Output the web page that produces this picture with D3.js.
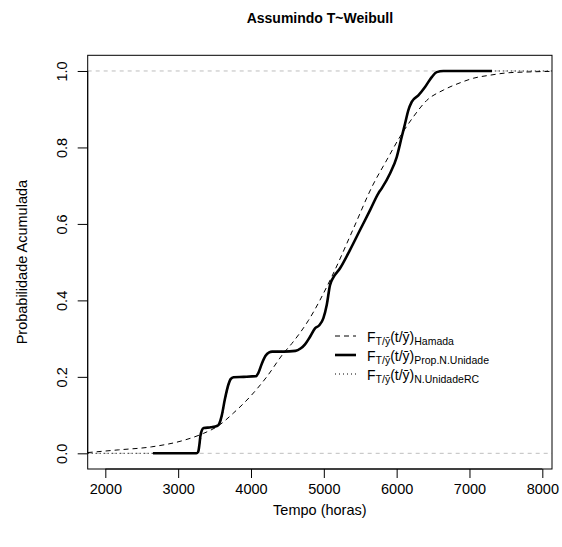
<!DOCTYPE html>
<html><head><meta charset="utf-8">
<script src="https://cdn.jsdelivr.net/npm/d3@7"></script>
<style>body{margin:0;background:#fff} text{font-family:"Liberation Sans",Arial,Helvetica,sans-serif}</style>
</head><body><svg id="c" width="562" height="547"></svg>
<script>
const xTicks = [2000, 3000, 4000, 5000, 6000, 7000, 8000];
const yTicks = [0, 0.2, 0.4, 0.6, 0.8, 1.0];
const refLines = [0, 1];

// Hamada (dashed)
const hamadaT = [1758, 2178, 2637, 3094, 3346, 3552, 3757, 3987, 4216, 4444, 4560, 4790, 5109, 5400, 5669, 5864, 6046, 6229, 6413, 6641, 6870, 7053, 7282, 7511, 7735, 8133];
const hamadaF = [0.002, 0.009, 0.017, 0.035, 0.052, 0.072, 0.105, 0.148, 0.200, 0.261, 0.287, 0.348, 0.462, 0.585, 0.700, 0.767, 0.828, 0.880, 0.923, 0.950, 0.969, 0.981, 0.989, 0.995, 0.997, 0.999];

// Prop.N.Unidade (solid)
const propT = [2655, 3250, 3275, 3290, 3305, 3325, 3350, 3450, 3540, 3565, 3600, 3640, 3690, 3720, 3760, 3900, 4070, 4100, 4150, 4200, 4250, 4290, 4450, 4610, 4680, 4742, 4811, 4879, 4938, 4993, 5040, 5085, 5131, 5223, 5360, 5497, 5635, 5749, 5795, 5909, 6001, 6070, 6115, 6160, 6207, 6298, 6390, 6482, 6550, 6641, 7310];
const propF = [0, 0, 0.004, 0.02, 0.045, 0.060, 0.066, 0.068, 0.072, 0.078, 0.100, 0.140, 0.180, 0.194, 0.199, 0.200, 0.202, 0.210, 0.235, 0.255, 0.264, 0.266, 0.266, 0.268, 0.274, 0.285, 0.305, 0.327, 0.335, 0.353, 0.388, 0.440, 0.460, 0.484, 0.532, 0.584, 0.636, 0.680, 0.693, 0.732, 0.775, 0.828, 0.862, 0.897, 0.919, 0.936, 0.958, 0.984, 0.997, 1.000, 1.000];

// N.UnidadeRC (dotted)
const rcT = [1758, 3255, 3280, 3300, 3320, 3345, 3460, 3550, 3575, 3610, 3650, 3700, 3735, 3780, 4080, 4110, 4160, 4210, 4265, 4300, 4620, 4690, 4750, 4820, 4885, 4945, 5000, 5045, 5090, 5140, 5230, 5365, 5500, 5640, 5755, 5800, 5915, 6005, 6075, 6120, 6165, 6212, 6305, 6395, 6488, 6555, 6650, 8133];
const rcF = [0, 0, 0.006, 0.025, 0.050, 0.064, 0.068, 0.072, 0.080, 0.104, 0.145, 0.183, 0.196, 0.200, 0.202, 0.212, 0.238, 0.257, 0.265, 0.266, 0.268, 0.275, 0.287, 0.306, 0.328, 0.336, 0.355, 0.390, 0.442, 0.462, 0.486, 0.534, 0.586, 0.638, 0.682, 0.695, 0.734, 0.778, 0.830, 0.864, 0.898, 0.920, 0.938, 0.960, 0.985, 0.997, 1.000, 1.000];

const svg = d3.select("#c");
const L = 87.7, R = 552, T = 55.3, B = 469;
const x = d3.scaleLinear().domain([1758, 8133]).range([L, R]);
const y = d3.scaleLinear().domain([-0.041, 1.041]).range([B, T]);

svg.append("rect").attr("width", 562).attr("height", 547).attr("fill", "#fff");
svg.append("defs").append("clipPath").attr("id", "clip")
  .append("rect").attr("x", L).attr("y", T).attr("width", R - L).attr("height", B - T);

const g = svg.append("g").attr("clip-path", "url(#clip)");

// reference lines
g.selectAll("line.ref").data(refLines).join("line")
  .attr("x1", L).attr("x2", R)
  .attr("y1", d => y(d)).attr("y2", d => y(d))
  .attr("stroke", "#bebebe").attr("stroke-width", 1).attr("stroke-dasharray", "4,4");

const line = d3.line().x(d => x(d[0])).y(d => y(d[1])).curve(d3.curveMonotoneX);

const ham = hamadaT.map((t, i) => [t, hamadaF[i]]);
const prop = propT.map((t, i) => [t, propF[i]]);
const rc = rcT.map((t, i) => [t, rcF[i]]);

g.append("path").datum(ham).attr("d", line).attr("fill", "none")
  .attr("stroke", "#000").attr("stroke-width", 1).attr("stroke-dasharray", "5,4");
g.append("path").datum(rc).attr("d", line).attr("fill", "none")
  .attr("stroke", "#000").attr("stroke-width", 1).attr("stroke-dasharray", "1,3");
g.append("path").datum(prop).attr("d", line).attr("fill", "none")
  .attr("stroke", "#000").attr("stroke-width", 2.6).attr("stroke-linejoin", "round");

// box
svg.append("rect").attr("x", L).attr("y", T).attr("width", R - L).attr("height", B - T)
  .attr("fill", "none").attr("stroke", "#000").attr("stroke-width", 1);

// x axis
const xa = svg.append("g").attr("transform", `translate(0,${B})`)
  .call(d3.axisBottom(x).tickValues(xTicks).tickSize(9).tickPadding(6).tickFormat(d3.format("d")));
xa.select(".domain").attr("d", `M${x(2000)},0H${x(8000)}`);
xa.selectAll("text").attr("font-size", 14.5).attr("font-family", "Liberation Sans, Arial, sans-serif").attr("fill", "#000");
xa.selectAll("line").attr("stroke", "#000");

// y axis
const ya = svg.append("g").attr("transform", `translate(${L},0)`)
  .call(d3.axisLeft(y).tickValues(yTicks).tickSize(10).tickFormat(d3.format(".1f")));
ya.select(".domain").attr("d", `M0,${y(0)}V${y(1)}`);
ya.selectAll("line").attr("stroke", "#000");
ya.selectAll("text")
  .attr("font-size", 14.5).attr("font-family", "Liberation Sans, Arial, sans-serif").attr("fill", "#000")
  .attr("text-anchor", "middle").attr("x", 0).attr("dy", null).attr("y", 0)
  .attr("transform", `translate(-21,0) rotate(-90)`);

// titles
svg.append("text").attr("x", (L + R) / 2).attr("y", 23).attr("text-anchor", "middle")
  .attr("font-weight", "bold").attr("font-size", 14).text("Assumindo T~Weibull");
svg.append("text").attr("x", (L + R) / 2).attr("y", 515).attr("text-anchor", "middle")
  .attr("font-size", 14.5).text("Tempo (horas)");
svg.append("text").attr("transform", `translate(27,${(T + B) / 2}) rotate(-90)`).attr("text-anchor", "middle")
  .attr("font-size", 14.5).text("Probabilidade Acumulada");

// legend
const legNames = ["Hamada", "Prop.N.Unidade", "N.UnidadeRC"];
const legDash = ["5,4", null, "1,3"];
const legW = [1, 2.6, 1];
const leg = svg.append("g");
legNames.forEach((n, i) => {
  const ly = 336 + i * 19;
  leg.append("line").attr("x1", 335).attr("x2", 356).attr("y1", ly).attr("y2", ly)
    .attr("stroke", "#000").attr("stroke-width", legW[i]).attr("stroke-dasharray", legDash[i]);
  const t = leg.append("text").attr("x", 367).attr("y", ly + 6).attr("font-size", 14);
  t.append("tspan").text("F");
  t.append("tspan").attr("font-size", 10.5).attr("dy", 3).text("T/ȳ");
  t.append("tspan").attr("dy", -3).text("(t/ȳ)");
  t.append("tspan").attr("font-size", 10.5).attr("dy", 3).text(n);
});
</script></body></html>
